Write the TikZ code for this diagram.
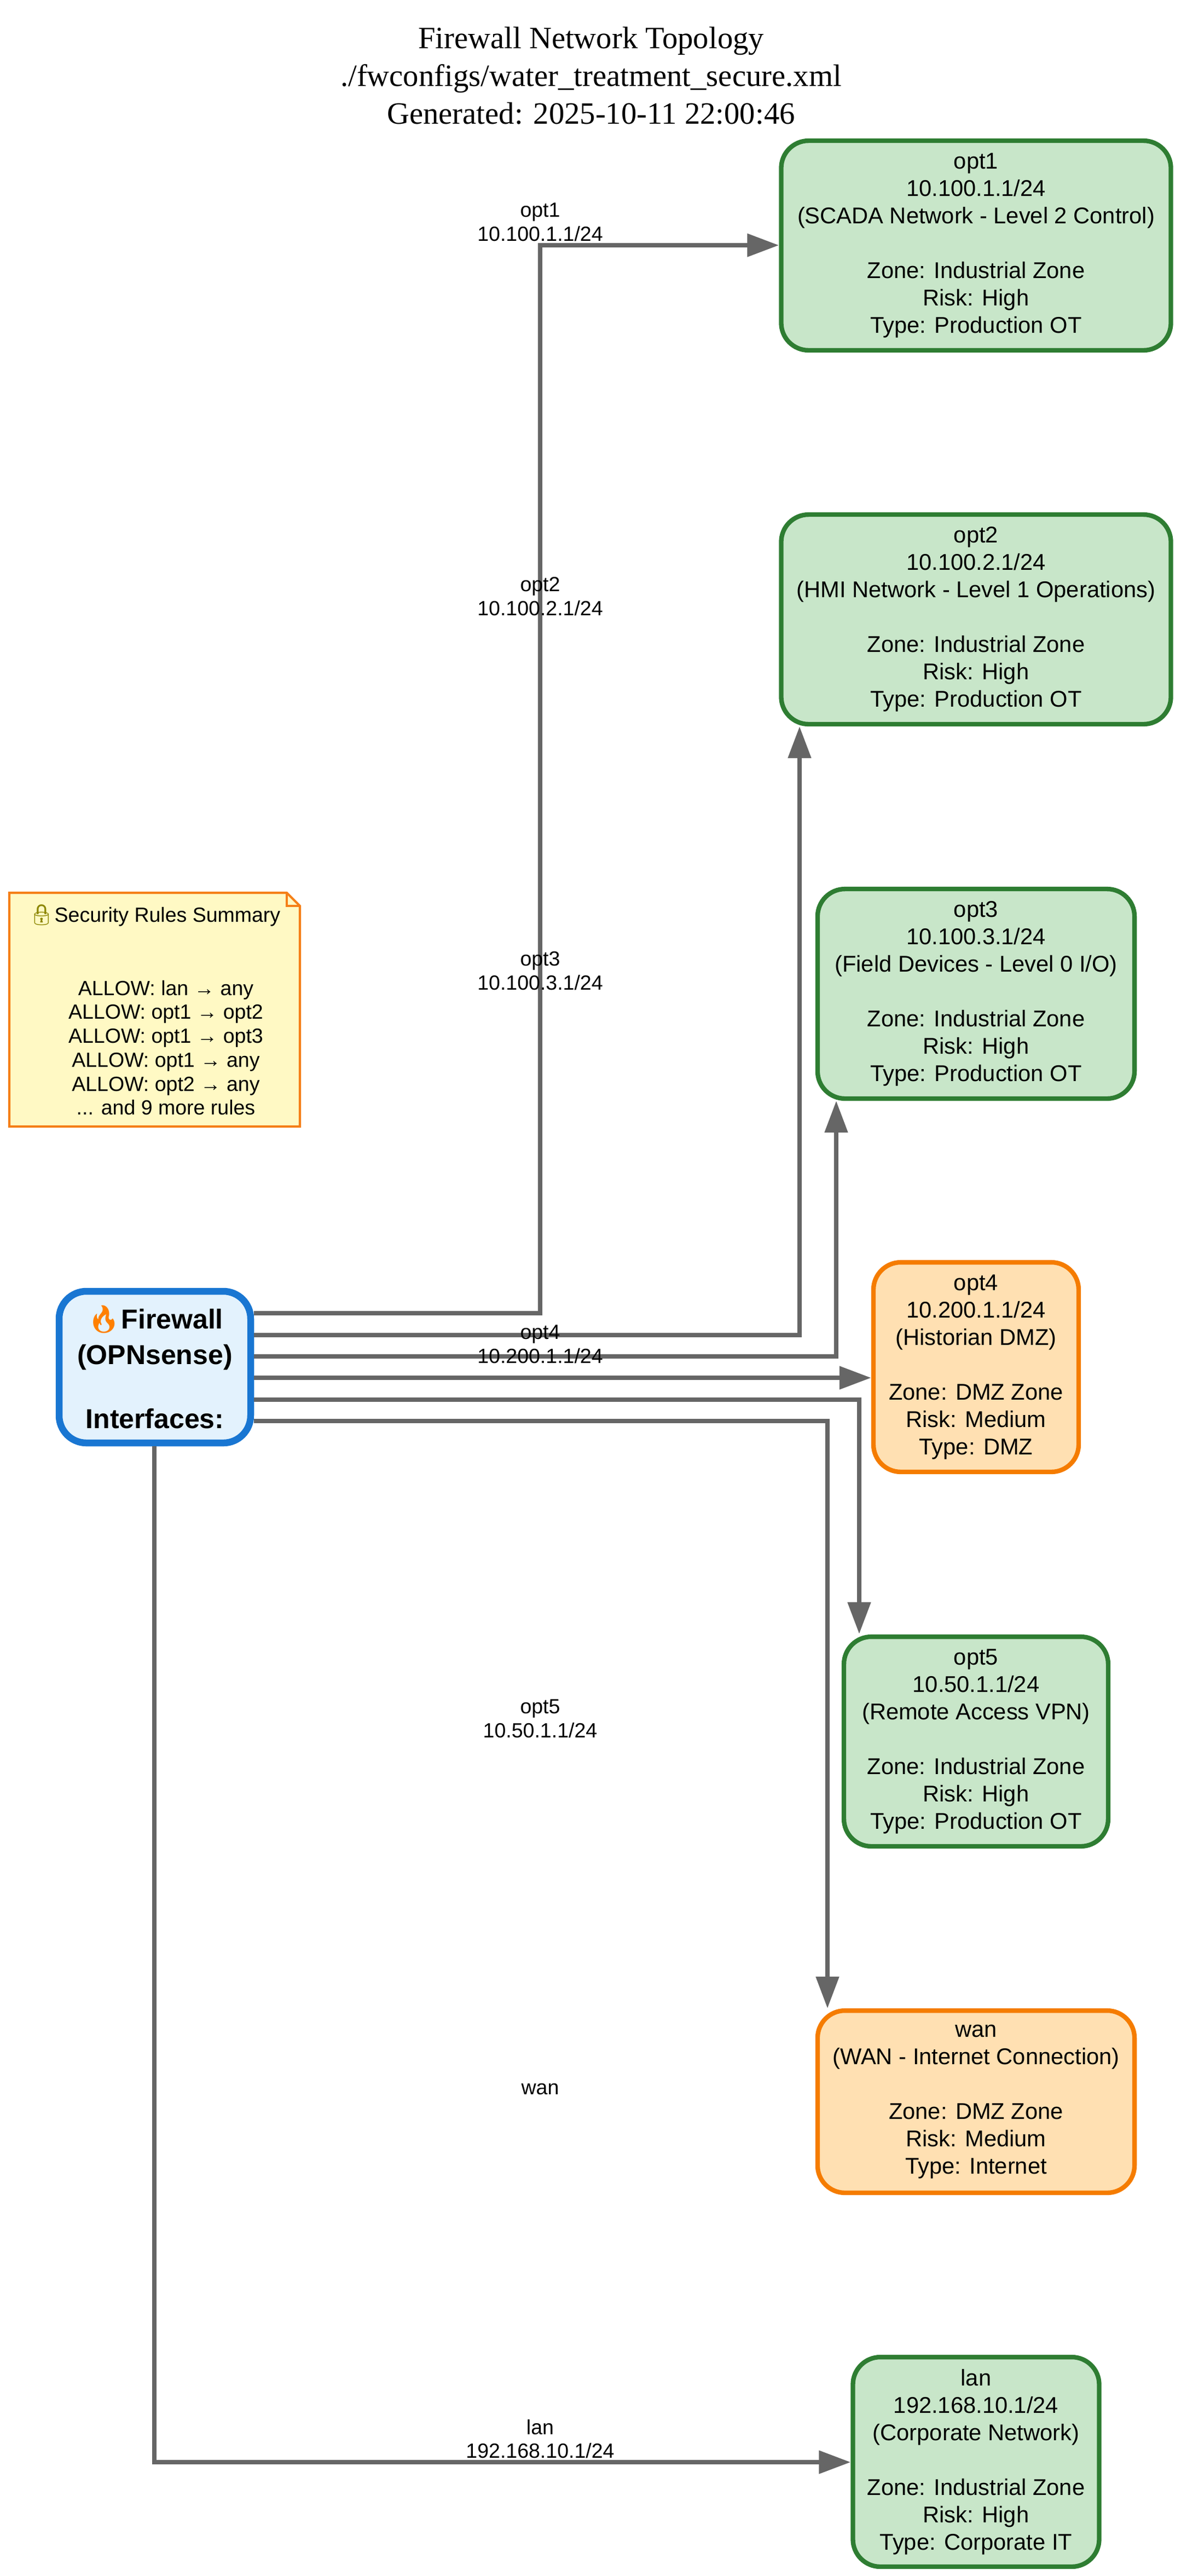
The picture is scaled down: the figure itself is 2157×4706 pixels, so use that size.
\documentclass[tikz,border=0pt]{standalone}
\usepackage{fontspec}
\setmainfont{Liberation Sans}
\newfontfamily\titlefont{Liberation Serif}
\newfontfamily\emojifont{Noto Emoji}
\usetikzlibrary{arrows.meta}
\definecolor{okfill}{RGB}{200,230,201}
\definecolor{okline}{RGB}{46,125,50}
\definecolor{dmzfill}{RGB}{255,224,178}
\definecolor{dmzline}{RGB}{245,124,0}
\definecolor{fwfill}{RGB}{227,242,253}
\definecolor{fwline}{RGB}{25,118,210}
\definecolor{notefill}{RGB}{255,249,196}
\definecolor{noteline}{RGB}{245,127,23}
\definecolor{wire}{RGB}{102,102,102}
\tikzset{
    netbox/.style={draw, line width=2pt, rounded corners=12pt, inner sep=0pt, align=center,
        font=\fontsize{10}{12}\selectfont},
    otbox/.style={netbox, draw=okline, fill=okfill},
    dmzbox/.style={netbox, draw=dmzline, fill=dmzfill},
    wirelabel/.style={inner sep=0pt, align=center, font=\fontsize{9}{10.5}\selectfont},
    wireline/.style={draw=wire, line width=2pt, -{Triangle[length=13.9pt,width=9.8pt]}},
}
\begin{document}
\begin{tikzpicture}[x=0.24pt, y=-0.24pt]
    \useasboundingbox (0,0) rectangle (2157,4706);
    % Title
    \node (title) at (1080,138) [align=center, inner sep=0pt, font=\fontsize{13.6}{16.6}\selectfont\titlefont]
        {Firewall Network Topology\\./fwconfigs/water\_treatment\_secure.xml\\Generated: 2025-10-11 22:00:46};
    % Security rules note
    \draw[noteline, line width=1pt, fill=notefill] (17,2058) -- (17,1631) -- (524,1631) -- (548,1655) -- (548,2058) -- cycle;
    \draw[noteline, line width=1pt] (524,1631) -- (524,1655) -- (548,1655);
    \node (rules) at (303,1845) [inner sep=0pt, align=center, font=\fontsize{9}{10.5}\selectfont]
        {{\color{olive}\emojifont 🔒}Security Rules Summary\hspace*{10pt}\\[21.5pt]
        ALLOW: lan → any\\ALLOW: opt1 → opt2\\ALLOW: opt1 → opt3\\ALLOW: opt1 → any\\ALLOW: opt2 → any\\... and 9 more rules};
    % Firewall
    \node (fw) at (283,2497.5) [netbox, draw=fwline, fill=fwfill, line width=3pt, minimum width=84pt, minimum height=66.5pt,
        font=\fontsize{12}{15.6}\selectfont\bfseries]
        {{\color{orange}\fontsize{12}{12}\emojifont 🔥}Firewall\\(OPNsense)\\[12.6pt]Interfaces:};
    % Zone boxes
    \node (opt1) at (1783.5,448.5) [otbox, minimum width=170.9pt, minimum height=91.9pt]
        {opt1\\10.100.1.1/24\\(SCADA Network - Level 2 Control)\\[12pt]Zone: Industrial Zone\\Risk: High\\Type: Production OT};
    \node (opt2) at (1783.5,1131.5) [otbox, minimum width=170.9pt, minimum height=91.9pt]
        {opt2\\10.100.2.1/24\\(HMI Network - Level 1 Operations)\\[12pt]Zone: Industrial Zone\\Risk: High\\Type: Production OT};
    \node (opt3) at (1783.5,1815.5) [otbox, minimum width=139pt, minimum height=91.9pt]
        {opt3\\10.100.3.1/24\\(Field Devices - Level 0 I/O)\\[12pt]Zone: Industrial Zone\\Risk: High\\Type: Production OT};
    \node (opt4) at (1783.5,2497.5) [dmzbox, minimum width=90pt, minimum height=91.9pt]
        {opt4\\10.200.1.1/24\\(Historian DMZ)\\[12pt]Zone: DMZ Zone\\Risk: Medium\\Type: DMZ};
    \node (opt5) at (1783.5,3181.5) [otbox, minimum width=115.9pt, minimum height=91.9pt]
        {opt5\\10.50.1.1/24\\(Remote Access VPN)\\[12pt]Zone: Industrial Zone\\Risk: High\\Type: Production OT};
    \node (wan) at (1783.5,3839.5) [dmzbox, minimum width=139pt, minimum height=79.9pt]
        {wan\\(WAN - Internet Connection)\\[12pt]Zone: DMZ Zone\\Risk: Medium\\Type: Internet};
    \node (lan) at (1783.5,4497.5) [otbox, minimum width=108pt, minimum height=91.9pt]
        {lan\\192.168.10.1/24\\(Corporate Network)\\[12pt]Zone: Industrial Zone\\Risk: High\\Type: Corporate IT};
    % Wire ends
    \coordinate (fw1) at (fw.east |- 0,2399);
    \coordinate (fw2) at (fw.east |- 0,2439);
    \coordinate (fw3) at (fw.east |- 0,2478);
    \coordinate (fw4) at (fw.east |- 0,2517);
    \coordinate (fw5) at (fw.east |- 0,2557);
    \coordinate (fw6) at (fw.east |- 0,2596);
    \coordinate (bend1) at (987,448);
    \coordinate (in2) at (1461,1327);
    \coordinate (in3) at (1528,2011);
    \coordinate (in5) at (1570,2985);
    \coordinate (in6) at (1512,3669);
    \coordinate (bend7) at (282,4498);
    % Wires
    \draw[wireline] (fw1) -| (bend1) -- (opt1.west |- bend1);
    \draw[wireline] (fw2) -| (in2);
    \draw[wireline] (fw3) -| (in3);
    \draw[wireline] (fw4) -- (opt4.west |- fw4);
    \draw[wireline] (fw5) -| (in5);
    \draw[wireline] (fw6) -| (in6);
    \draw[wireline] (fw.south -| bend7) -- (bend7) -- (lan.west |- bend7);
    % Wire labels
    \node (lab1) at (987,406) [wirelabel] {opt1\\10.100.1.1/24};
    \node (lab2) at (987,1089.5) [wirelabel] {opt2\\10.100.2.1/24};
    \node (lab3) at (987,1773.5) [wirelabel] {opt3\\10.100.3.1/24};
    \node (lab4) at (987,2455.5) [wirelabel] {opt4\\10.200.1.1/24};
    \node (lab5) at (987,3139.5) [wirelabel] {opt5\\10.50.1.1/24};
    \node (lab6) at (987,3817) [wirelabel] {wan};
    \node (lab7) at (987,4455.5) [wirelabel] {lan\\192.168.10.1/24};
\end{tikzpicture}
\end{document}
